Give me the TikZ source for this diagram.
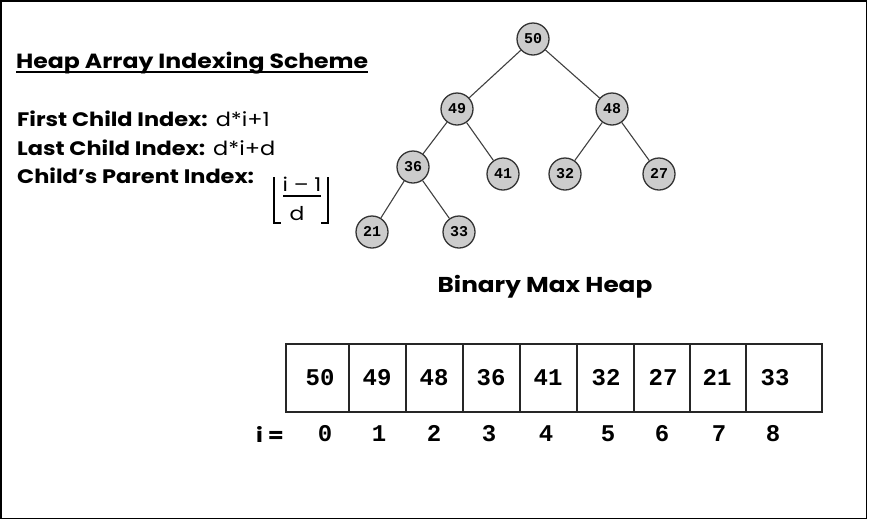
\documentclass[tikz,border=0pt]{standalone}
\usepackage{fontspec}
\setmainfont{Poppins}[FakeStretch=1.15]
\newfontfamily\codefont{Liberation Mono}
\begin{document}
\begin{tikzpicture}[x=1pt,y=-1pt,
  hnode/.style={circle,draw=black!80,line width=1.3pt,fill=black!20,minimum size=32pt,inner sep=0pt,
    text height=9.6pt,text depth=0pt,
    font=\codefont\bfseries\fontsize{15}{15}\selectfont},
  hedge/.style={draw=black!75,line width=1.1pt},
  cellbox/.style={draw=black!85,line width=1.2pt,minimum height=68pt,inner sep=0pt},
  cellval/.style={font=\codefont\bfseries\fontsize{24}{24}\selectfont,inner sep=0pt,
    text height=15.4pt,text depth=0pt},
  idxval/.style={font=\codefont\bfseries\fontsize{24}{24}\selectfont,inner sep=0pt,
    text height=15.4pt,text depth=0pt},
  lbl/.style={anchor=base west,inner sep=0pt,font=\fontsize{19.5}{19.5}\selectfont}
]
\useasboundingbox (0,0) rectangle (869,520);
% frame
\draw[line width=1.4pt] (1,1) rectangle (866.5,518.5);

% indexing scheme text
\node[lbl,font=\bfseries\fontsize{20.5}{20.5}\selectfont] (title) at (16,68) {Heap Array Indexing Scheme};
\draw[line width=1.6pt] (title.south west |- 0,72) -- (title.south east |- 0,72);
\node[lbl] (first) at (17,126) {\textbf{First Child Index:} d*i+1};
\node[lbl] (last) at (17,155) {\textbf{Last Child Index:} d*i+d};
\node[lbl] (parent) at (17,183) {\textbf{Child’s Parent Index:}};
% floor of (i-1)/d
\node[inner sep=0pt,font=\fontsize{19}{19}\selectfont] (num) at (302,184) {i – 1};
\node[inner sep=0pt,font=\fontsize{19}{19}\selectfont] (den) at (297,214) {d};
\draw[line width=1.1pt] (283,196) -- (321,196);
\draw[line width=1.1pt] (274,177) -- (274,223) -- (281,223);
\draw[line width=1.1pt] (328,177) -- (328,223) -- (321,223);

% binary max heap
\node[hnode] (n50) at (533,39) {50};
\node[hnode] (n49) at (457,109) {49};
\node[hnode] (n48) at (612,109) {48};
\node[hnode] (n36) at (413,167) {36};
\node[hnode] (n41) at (503,174) {41};
\node[hnode] (n32) at (565,174) {32};
\node[hnode] (n27) at (659,174) {27};
\node[hnode] (n21) at (372,232) {21};
\node[hnode] (n33) at (459,232) {33};
\draw[hedge] (n50) -- (n49);
\draw[hedge] (n50) -- (n48);
\draw[hedge] (n49) -- (n36);
\draw[hedge] (n49) -- (n41);
\draw[hedge] (n48) -- (n32);
\draw[hedge] (n48) -- (n27);
\draw[hedge] (n36) -- (n21);
\draw[hedge] (n36) -- (n33);
\node[inner sep=0pt,font=\bfseries\fontsize{21.5}{21.5}\selectfont] (caption) at (545,287) {Binary Max Heap};

% array cells
\node[cellbox,minimum width=63pt] (c0) at (317.5,378) {};
\node[cellbox,minimum width=57pt] (c1) at (377.5,378) {};
\node[cellbox,minimum width=57pt] (c2) at (434.5,378) {};
\node[cellbox,minimum width=57pt] (c3) at (491.5,378) {};
\node[cellbox,minimum width=57pt] (c4) at (548.5,378) {};
\node[cellbox,minimum width=57pt] (c5) at (605.5,378) {};
\node[cellbox,minimum width=56pt] (c6) at (662,378) {};
\node[cellbox,minimum width=56pt] (c7) at (718,378) {};
\node[cellbox,minimum width=76pt] (c8) at (784,378) {};
\node[cellval] (v0) at (320,378) {50};
\node[cellval] (v1) at (377,378) {49};
\node[cellval] (v2) at (434,378) {48};
\node[cellval] (v3) at (491,378) {36};
\node[cellval] (v4) at (548,378) {41};
\node[cellval] (v5) at (606,378) {32};
\node[cellval] (v6) at (663,378) {27};
\node[cellval] (v7) at (717,378) {21};
\node[cellval] (v8) at (775,378) {33};

% indices
\node[inner sep=0pt,font=\bfseries\fontsize{20}{20}\selectfont] (ilabel) at (270,434) {i =};
\node[idxval] (i0) at (325,434) {0};
\node[idxval] (i1) at (379,434) {1};
\node[idxval] (i2) at (434,434) {2};
\node[idxval] (i3) at (489,434) {3};
\node[idxval] (i4) at (546,434) {4};
\node[idxval] (i5) at (608,434) {5};
\node[idxval] (i6) at (662,434) {6};
\node[idxval] (i7) at (719,434) {7};
\node[idxval] (i8) at (773,434) {8};
\end{tikzpicture}
\end{document}
